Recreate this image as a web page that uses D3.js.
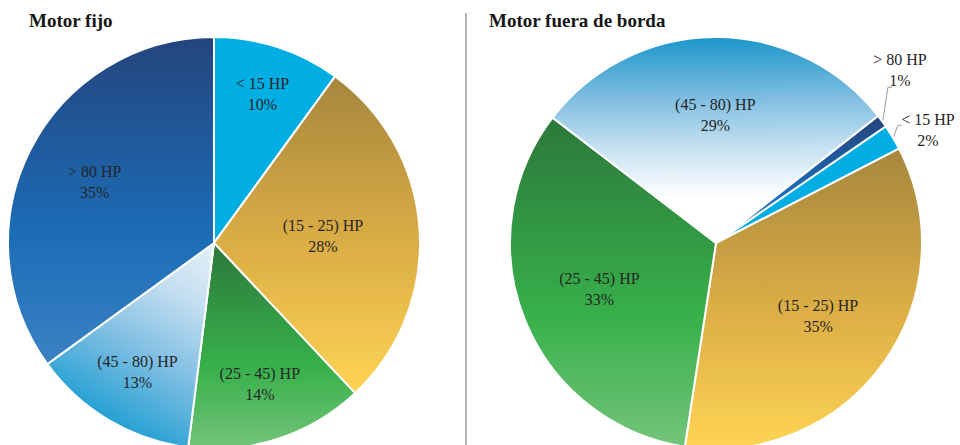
<!DOCTYPE html>
<html>
<head>
<meta charset="utf-8">
<script src="https://cdn.jsdelivr.net/npm/d3@7"></script>
<style>
  body { margin: 0; background: #fff; }
  svg { display: block; }
  .title { font-family: "Liberation Serif", serif; font-weight: bold; font-size: 19px; fill: #161616; }
  .lbl { font-family: "Liberation Serif", serif; font-size: 16px; fill: #262626; }
</style>
</head>
<body>
<script>
// categories and shares (%) for both charts
var categories = ["< 15 HP", "(15 - 25) HP", "(25 - 45) HP", "(45 - 80) HP", "> 80 HP"];
var fijoValues = [10, 28, 14, 13, 35];
var fueraValues = [2, 35, 33, 29, 1];
var titles = ["Motor fijo", "Motor fuera de borda"];

window.onload = function(){
    drawAll()
};

function drawAll(){
    var svg = d3.select("body").append("svg").attr("width", 960).attr("height", 445);
    var radius = 206;
    var defs = svg.append("defs");

    // vertical gradients per slice (bounding box)
    function linGrad(id, stops){
        var g = defs.append("linearGradient").attr("id", id)
            .attr("x1", 0).attr("y1", 0).attr("x2", 0).attr("y2", 1);
        stops.forEach(function(s){
            g.append("stop").attr("offset", s[0]).attr("stop-color", s[1]);
        });
    }
    linGrad("g-gold", [[0, "#a5873d"], [0.5, "#d9ab45"], [1, "#fed454"]]);
    linGrad("g-green", [[0, "#2c783b"], [0.6, "#37b04a"], [1, "#74c47a"]]);
    linGrad("g-navy", [[0, "#24457d"], [0.6, "#1c6cb6"], [1, "#3a82c4"]]);

    var fills = {
        "< 15 HP": "#00aee3",
        "(15 - 25) HP": "url(#g-gold)",
        "(25 - 45) HP": "url(#g-green)",
        "> 80 HP": "url(#g-navy)"
    };

    // divider
    svg.append("line")
        .attr("x1", 466).attr("x2", 466).attr("y1", 13).attr("y2", 445)
        .attr("stroke", "#b3b3b3").attr("stroke-width", 2);

    // left pie
    drawPie(svg, defs, {
        id: "fijo", cx: 214, cy: 243, r: radius, values: fijoValues,
        start: 0, title: titles[0], tx: 29, ty: 27,
        fills: fills,
        labelR: [0.76, 0.53, 0.72, 0.73, 0.65],
        lightStops: [[0, "#e6f1f8"], [0.3, "#c3def0"], [0.65, "#7cbde2"], [1, "#25a1d3"]],
        outside: {}
    });

    // right pie
    drawPie(svg, defs, {
        id: "fuera", cx: 716, cy: 243, r: radius, values: fueraValues,
        start: 55.5, title: titles[1], tx: 489, ty: 27,
        fills: fills,
        labelR: [0, 0.61, 0.61, 0.62, 0],
        lightStops: [[0, "#ffffff"], [0.22, "#ffffff"], [0.45, "#c9e3f1"], [0.7, "#80bee1"], [1, "#1b96ca"]],
        outside: {
            "> 80 HP": {ang: 46.8, rf: 1.225, lx: -12, ly: 17},
            "< 15 HP": {ang: 62, rf: 1.165, lx: -30, ly: -5}
        }
    });
}

function drawPie(svg, defs, o){
    var rad = Math.PI / 180;
    var data = categories.map(function(c, i){ return {key: c, value: o.values[i], idx: i}; });

    var pie = d3.pie()
        .sort(null)
        .value(function(d){ return d.value; })
        .startAngle(o.start * rad)
        .endAngle(o.start * rad + 2 * Math.PI);

    var arcs = pie(data);
    var arc = d3.arc().innerRadius(0).outerRadius(o.r);

    var g = svg.append("g").attr("transform", "translate(" + o.cx + "," + o.cy + ")");

    // the (45-80) slice fades from pale at the centre to blue at its rim
    arcs.forEach(function(d){
        if (d.data.key == "(45 - 80) HP"){
            var mid = (d.startAngle + d.endAngle) / 2;
            var lg = defs.append("linearGradient").attr("id", "g-light-" + o.id)
                .attr("gradientUnits", "userSpaceOnUse")
                .attr("x1", 0).attr("y1", 0)
                .attr("x2", o.r * Math.sin(mid)).attr("y2", -o.r * Math.cos(mid));
            o.lightStops.forEach(function(s){
                lg.append("stop").attr("offset", s[0]).attr("stop-color", s[1]);
            });
        }
    });

    g.selectAll(".slice")
        .data(arcs)
        .enter()
        .append("path")
        .attr("class", "slice")
        .attr("d", arc)
        .attr("fill", function(d){
            if (d.data.key == "(45 - 80) HP") return "url(#g-light-" + o.id + ")";
            return o.fills[d.data.key];
        })
        .attr("stroke", "#fff")
        .style("stroke-width", "2px");

    // title
    svg.append("text")
        .attr("class", "title")
        .attr("x", o.tx).attr("y", o.ty)
        .text(o.title);

    // labels
    arcs.forEach(function(d){
        var key = d.data.key;
        var p, out = o.outside[key];
        if (out){
            var a = out.ang * rad;
            p = [o.r * out.rf * Math.sin(a), -o.r * out.rf * Math.cos(a)];
            var mid = (d.startAngle + d.endAngle) / 2;
            var e = [(o.r + 1) * Math.sin(mid), -(o.r + 1) * Math.cos(mid)];
            var k = [p[0] + out.lx, p[1] + out.ly];
            g.append("polyline")
                .attr("points", [e, k, [k[0] + 4, k[1]]].map(function(q){ return q.join(","); }).join(" "))
                .attr("fill", "none")
                .attr("stroke", "#9a9a9a")
                .attr("stroke-width", 1);
        } else {
            var la = d3.arc().innerRadius(o.r * o.labelR[d.data.idx]).outerRadius(o.r * o.labelR[d.data.idx]);
            p = la.centroid(d);
        }
        var t = g.append("text")
            .attr("class", "lbl")
            .attr("text-anchor", "middle")
            .attr("transform", "translate(" + p[0] + "," + p[1] + ")");
        t.append("tspan").attr("x", 0).attr("y", -5.5).text(key);
        t.append("tspan").attr("x", 0).attr("y", 15.5).text(d.data.value + "%");
    });
}
</script>
</body>
</html>
